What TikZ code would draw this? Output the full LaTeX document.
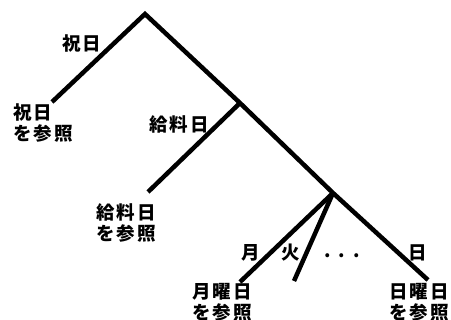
\documentclass[tikz,border=0pt]{standalone}
\usepackage{fontspec}
\newfontfamily\jp[LetterSpace=10]{Noto Sans CJK JP}
\begin{document}
\begin{tikzpicture}[x=1pt,y=1pt,
  branch/.style={line width=4.5pt},
  lbl/.style={font=\jp\bfseries\fontsize{18.5}{21}\selectfont, inner sep=0pt},
  leaf/.style={lbl, align=center}]
\useasboundingbox (0,0) rectangle (451,320);
\coordinate (root) at (145,306);
\coordinate (a) at (52,218);
\coordinate (j2) at (240,217);
\coordinate (b) at (148,128);
\coordinate (j3) at (333,127);
\coordinate (sun) at (428,40);
\coordinate (mon) at (240,38);
\coordinate (tue) at (294,39);
\draw[branch] (a) -- (root) -- (j2) -- (j3) -- (sun);
\draw[branch] (j2) -- (b);
\draw[branch] (j3) -- (mon);
\draw[branch] (j3) -- (tue);
\node[lbl] (l1) at (82,276) {祝日};
\node[lbl, align=left] (leaf1) at (43,197) {祝日\\ を参照};
\node[lbl] (l2) at (179,196) {給料日};
\node[leaf] (leaf2) at (126,97) {給料日\\を参照};
\node[lbl] (lm) at (251,67) {月};
\node[lbl] (lt) at (291,67) {火};
\node[lbl] (ld) at (342,64) {. . .};
\node[lbl] (ls) at (418,67) {日};
\node[leaf] (leafm) at (222,18) {月曜日\\を参照};
\node[leaf] (leafs) at (419,18) {日曜日\\を参照};
\end{tikzpicture}
\end{document}
